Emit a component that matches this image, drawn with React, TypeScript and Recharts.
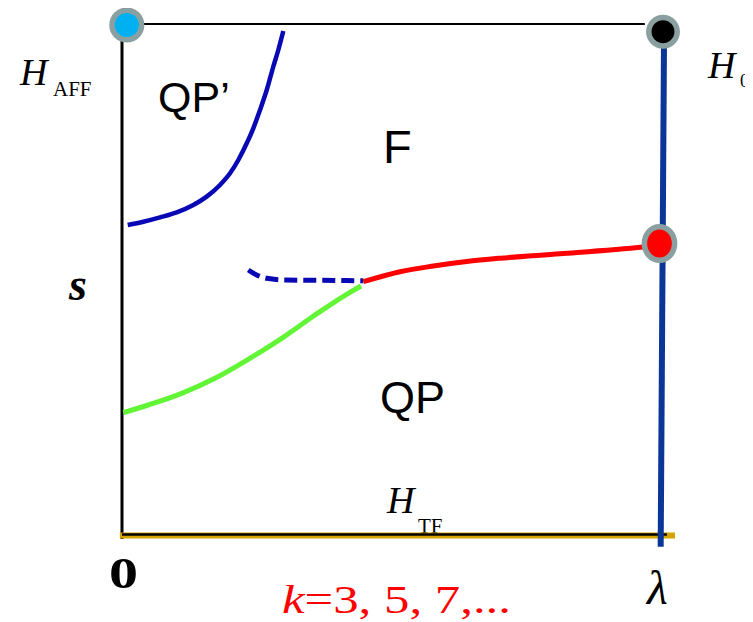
import React from 'react';
import { LineChart, Line, XAxis, YAxis, Customized } from 'recharts';

// Phase diagram, x = lambda (0..1), y = s (0..1)
const leftAxis = [{ x: 0, y: -0.008 }, { x: 0, y: 1.0 }];
const topAxis = [{ x: 0, y: 1.002 }, { x: 0.97, y: 1.002 }];
const bottomGold = [{ x: -0.004, y: -0.001 }, { x: 1.026, y: -0.001 }];
const bottomBlack = [{ x: 0, y: 0.001 }, { x: 1.011, y: 0.001 }];
const rightBlue = [{ x: 1.0056, y: 0.9706 }, { x: 0.9994, y: -0.0229 }];

const qpPrimeBoundary = [
  { x: 0.0106, y: 0.6078 },
  { x: 0.0395, y: 0.6143 },
  { x: 0.0705, y: 0.6229 },
  { x: 0.1015, y: 0.6327 },
  { x: 0.1323, y: 0.6471 },
  { x: 0.1571, y: 0.6634 },
  { x: 0.1818, y: 0.6863 },
  { x: 0.2004, y: 0.7092 },
  { x: 0.2158, y: 0.7353 },
  { x: 0.2314, y: 0.768 },
  { x: 0.2436, y: 0.7974 },
  { x: 0.256, y: 0.8333 },
  { x: 0.2685, y: 0.8725 },
  { x: 0.2807, y: 0.9183 },
  { x: 0.29, y: 0.951 },
  { x: 0.2993, y: 0.9882 },
];

const dashedBoundary = [
  { x: 0.2343, y: 0.5196 },
  { x: 0.2499, y: 0.5098 },
  { x: 0.2685, y: 0.5033 },
  { x: 0.3056, y: 0.5 },
  { x: 0.3612, y: 0.4994 },
  { x: 0.4477, y: 0.4986 },
];

const redBoundary = [
  { x: 0.4477, y: 0.4967 },
  { x: 0.5158, y: 0.5163 },
  { x: 0.5776, y: 0.5275 },
  { x: 0.6395, y: 0.5363 },
  { x: 0.7013, y: 0.5427 },
  { x: 0.8126, y: 0.5514 },
  { x: 0.9671, y: 0.5647 },
  { x: 0.9981, y: 0.568 },
];

const greenBoundary = [
  { x: 0.0024, y: 0.2398 },
  { x: 0.0488, y: 0.2549 },
  { x: 0.1108, y: 0.2778 },
  { x: 0.1725, y: 0.3073 },
  { x: 0.2343, y: 0.3445 },
  { x: 0.2963, y: 0.3857 },
  { x: 0.3581, y: 0.4314 },
  { x: 0.4199, y: 0.4739 },
  { x: 0.4434, y: 0.4882 },
];

const pointAFF = [{ x: 0.0089, y: 1.0 }];
const pointH0 = [{ x: 1.0037, y: 0.9869 }];
const pointCrit = [{ x: 0.9972, y: 0.5716 }];

const XMIN = -0.2;
const XMAX = 1.15;
const YMIN = -0.1;
const YMAX = 1.02;

const GRAY = '#8aa0a0';
const SERIF = '"Liberation Serif", "Times New Roman", serif';
const SANS = '"Liberation Sans", Arial, sans-serif';

const makeDot = (fill: string, rx: number, ry: number) => (props: any) => {
  const { cx, cy, index } = props;
  if (cx == null || cy == null) return <g key={index} />;
  return (
    <ellipse key={index} cx={cx} cy={cy} rx={rx} ry={ry} fill={fill} stroke={GRAY} strokeWidth={5.5} />
  );
};

const Labels = () => (
  <g>
    <text x={12} y={77} fontFamily={SERIF} fontStyle="italic" fontSize={38} fill="#000">H</text>
    <text x={45} y={88} fontFamily={SERIF} fontSize={21} fill="#000">AFF</text>
    <text x={150} y={104} fontFamily={SANS} fontSize={43} fill="#000">QP’</text>
    <text x={375} y={155} fontFamily={SANS} fontSize={47} fill="#000">F</text>
    <text x={61} y={292} fontFamily={SERIF} fontStyle="italic" fontWeight="bold" fontSize={46} fill="#000">s</text>
    <text x={700} y={70} fontFamily={SERIF} fontStyle="italic" fontSize={38} fill="#000">H</text>
    <text x={732} y={79} fontFamily={SERIF} fontSize={18} fill="#000">0</text>
    <text x={372} y={405} fontFamily={SANS} fontSize={45} fill="#000">QP</text>
    <text x={379} y={505} fontFamily={SERIF} fontStyle="italic" fontSize={38} fill="#000">H</text>
    <text x={410} y={525} fontFamily={SERIF} fontSize={21} fill="#000">TF</text>
    <text x={101} y={580} fontFamily={SERIF} fontWeight="bold" fontSize={44} fill="#000" textLength={29} lengthAdjust="spacingAndGlyphs">0</text>
    <text x={274} y={605} fontFamily={SERIF} fontSize={40} fill="#ff0000" textLength={229} lengthAdjust="spacingAndGlyphs">
      <tspan fontStyle="italic">k</tspan>
      <tspan>=3, 5, 7,...</tspan>
    </text>
    <text x={639} y={596} fontFamily={SERIF} fontStyle="italic" fontSize={48} fill="#000">λ</text>
  </g>
);

export default function App() {
  const common = { dataKey: 'y', dot: false, activeDot: false, isAnimationActive: false, legendType: 'none' as const };
  return (
    <LineChart
      width={745}
      height={614}
      margin={{ top: 6.8, right: 11.15, bottom: 36, left: 6.2 }}
    >
      <XAxis type="number" dataKey="x" domain={[XMIN, XMAX]} hide />
      <YAxis type="number" domain={[YMIN, YMAX]} hide />
      <Line {...common} data={leftAxis} type="linear" stroke="#000" strokeWidth={3} />
      <Line {...common} data={topAxis} type="linear" stroke="#000" strokeWidth={2} />
      <Line {...common} data={bottomGold} type="linear" stroke="#d6a200" strokeWidth={6} />
      <Line {...common} data={bottomBlack} type="linear" stroke="#000" strokeWidth={2.5} />
      <Line {...common} data={qpPrimeBoundary} type="monotone" stroke="#0808b4" strokeWidth={4.5} />
      <Line {...common} data={dashedBoundary} type="monotone" stroke="#0808b4" strokeWidth={5} strokeDasharray="13 6" />
      <Line {...common} data={greenBoundary} type="monotone" stroke="#62f536" strokeWidth={5} />
      <Line {...common} data={redBoundary} type="monotone" stroke="#ff0000" strokeWidth={5} />
      <Line {...common} data={pointAFF} type="linear" stroke="none" dot={makeDot('#00b0f0', 14.8, 14.8)} />
      <Line {...common} data={pointH0} type="linear" stroke="none" dot={makeDot('#000000', 14.2, 14.2)} />
      <Line {...common} data={rightBlue} type="linear" stroke="#0b3597" strokeWidth={6} />
      <Line {...common} data={pointCrit} type="linear" stroke="none" dot={makeDot('#ff0000', 15.1, 16.8)} />
      <Customized component={Labels} />
    </LineChart>
  );
}
